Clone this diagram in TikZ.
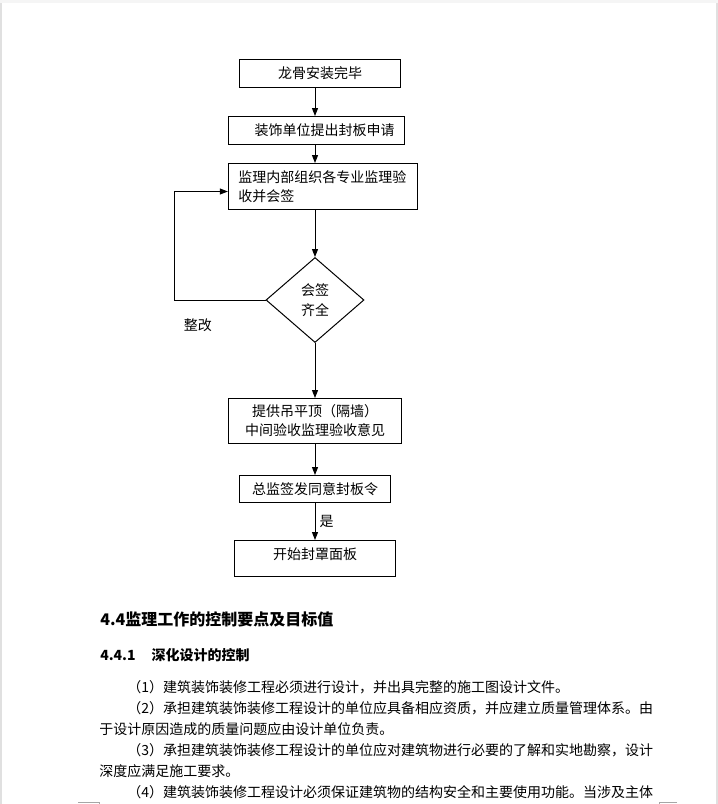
\documentclass[tikz,border=0pt]{standalone}
\usepackage{fontspec}
\setmainfont{Noto Sans CJK SC}
\usetikzlibrary{positioning,arrows.meta,shapes.geometric}
\tikzset{
  flow-box/.style={draw=black,line width=0.75pt,inner sep=0pt,align=center,
    font=\fontsize{10.5pt}{14.25pt}\selectfont},
  flow-check/.style={draw=black,line width=0.75pt,diamond,inner sep=0pt,align=center,
    minimum width=73.5pt,minimum height=63.75pt,font=\fontsize{10.5pt}{15pt}\selectfont},
  flow-label/.style={inner sep=0pt,font=\fontsize{10.5pt}{12pt}\selectfont},
  arrow/.style={-{Triangle[length=6pt,width=4.5pt]},line width=0.75pt,draw=black},
  doc-head/.style={anchor=base west,inner sep=0pt,font=\fontsize{12pt}{14pt}\selectfont\bfseries},
  doc-sub/.style={anchor=base west,inner sep=0pt,font=\fontsize{10.5pt}{12pt}\selectfont\bfseries},
  doc-line/.style={anchor=base west,inner sep=0pt,font=\fontsize{10.5pt}{12pt}\selectfont},
  page-edge/.style={fill=black!12,draw=none},
  page-mark/.style={draw=black!35,line width=0.75pt},
}
\begin{document}
\begin{tikzpicture}[x=0.75pt,y=-0.75pt]
  \useasboundingbox (0,0) rectangle (718,804);
  \fill[white] (0,0) rectangle (718,804);
  % page edges
  \fill[page-edge] (0,0) rectangle (2,804);
  \fill[page-edge] (716,0) rectangle (718,804);
  \fill[black!4] (0,0) rectangle (718,3);
  \draw[page-mark] (78,802) -- (99,802) -- (99,804);
  \draw[page-mark] (677,802) -- (659,802) -- (659,804);
  % flow chart
  \node[flow-box,minimum width=121pt,minimum height=21pt] (done) at (320,73.5) {龙骨安装完毕};
  \node[flow-box,minimum width=132pt,minimum height=21pt,below=21pt of done,xshift=-2.625pt] (apply) {\hspace*{12pt}装饰单位提出封板申请};
  \node[flow-box,minimum width=142pt,minimum height=34.5pt,text width=127pt,align=left,below=13.5pt of apply,xshift=4.875pt] (inspect) {监理内部组织各专业监理验\\收并会签};
  \node[flow-check,below=35.25pt of inspect,xshift=-6pt] (check) {会签\\齐全};
  \node[flow-box,minimum width=130pt,minimum height=33.75pt,below=41.25pt of check] (midway) {提供吊平顶（隔墙）\\中间验收监理验收意见};
  \node[flow-box,minimum width=113.5pt,minimum height=20.25pt,below=23.25pt of midway] (order) {总监签发同意封板令};
  \node[flow-box,minimum width=121pt,minimum height=27pt,text depth=8pt,below=27.75pt of order] (seal) {开始封罩面板};
  \draw[arrow] (done.south -| check.north) -- (apply.north -| check.north);
  \draw[arrow] (apply.south -| check.north) -- (inspect.north -| check.north);
  \draw[arrow] (inspect.south -| check.north) -- (check.north);
  \draw[arrow] (check.south) -- (midway.north);
  \draw[arrow] (midway.south) -- (order.north);
  \draw[arrow] (order.south) -- node[flow-label,right=3pt] (yes) {是} (seal.north);
  \draw[arrow] (check.west) -- ++(-91,0) |- ([yshift=-3.75pt]inspect.west);
  \node[flow-label,below left=14pt and 40pt of check.west] (fix) {整改};
  % text below
  \node[doc-head] (sec) at (100,625) {4.4监理工作的控制要点及目标值};
  \node[doc-sub] (subsec) at (100,660) {4.4.1\hspace{12pt}深化设计的控制};
  \node[doc-line] (p1) at (127,692) {（1）建筑装饰装修工程必须进行设计，并出具完整的施工图设计文件。};
  \node[doc-line] (p2) at (127,713) {（2）承担建筑装饰装修工程设计的单位应具备相应资质，并应建立质量管理体系。由};
  \node[doc-line] (p2b) at (99,734) {于设计原因造成的质量问题应由设计单位负责。};
  \node[doc-line] (p3) at (127,755) {（3）承担建筑装饰装修工程设计的单位应对建筑物进行必要的了解和实地勘察，设计};
  \node[doc-line] (p3b) at (99,776) {深度应满足施工要求。};
  \node[doc-line] (p4) at (127,797) {（4）建筑装饰装修工程设计必须保证建筑物的结构安全和主要使用功能。当涉及主体};
\end{tikzpicture}
\end{document}
